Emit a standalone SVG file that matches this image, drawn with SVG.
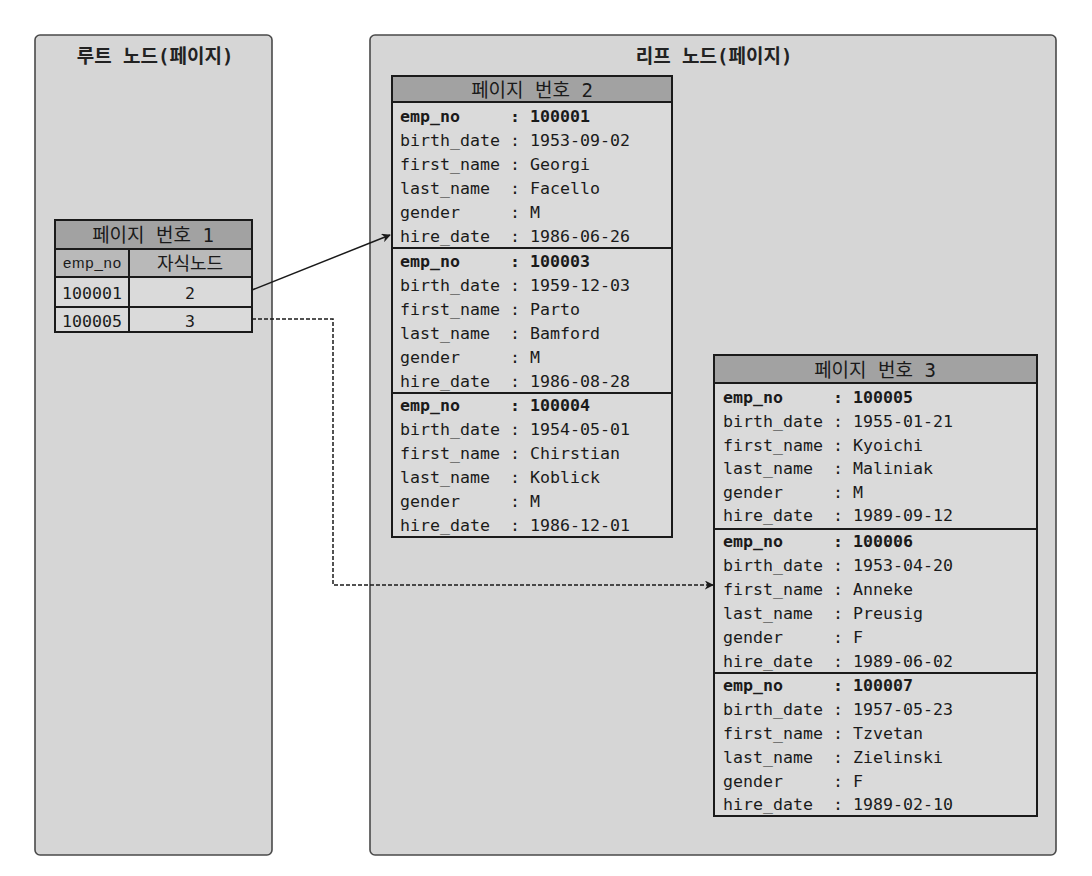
<svg xmlns="http://www.w3.org/2000/svg" width="1092" height="876" viewBox="0 0 1092 876">
<style>
.cont{fill:#d6d6d6;stroke:#4a4a4a;stroke-width:1.6}
.tbl{fill:#dadada;stroke:#1a1a1a;stroke-width:2}
.hdr{fill:#a2a2a2;stroke:#1a1a1a;stroke-width:2}
.sub{fill:#b9b9b9;stroke:#1a1a1a;stroke-width:2}
.sep{stroke:#1a1a1a;stroke-width:2}
.title{font-family:"DejaVu Sans Mono","Noto Sans CJK KR",monospace;font-size:19px;font-weight:bold;fill:#222;text-anchor:middle}
.ph{font-family:"DejaVu Sans Mono","Noto Sans CJK KR",monospace;font-size:19px;fill:#1a1a1a;text-anchor:middle}
.m{font-family:"DejaVu Sans Mono","Liberation Mono",monospace;font-size:16.6px;fill:#1a1a1a}
.b{font-weight:bold}
.conn{fill:none;stroke:#1a1a1a;stroke-width:1.5}
.dash{stroke-dasharray:4 2}
</style>
<defs>
<marker id="arr" viewBox="0 0 10 10" refX="9" refY="5" markerWidth="9" markerHeight="9" markerUnits="userSpaceOnUse" orient="auto">
<path d="M0,0 L10,5 L0,10 L3,5 Z" fill="#1a1a1a"/>
</marker>
</defs>

<g id="root-node">
<rect class="cont" x="35" y="35" width="237" height="820" rx="5"/>
<text class="title" x="155" y="63">루트 노드(페이지)</text>
</g>

<g id="leaf-node">
<rect class="cont" x="370" y="35" width="686" height="820" rx="5"/>
<text class="title" x="714" y="63">리프 노드(페이지)</text>
</g>

<g id="page1">
<rect class="tbl" x="55" y="220" width="197" height="112"/>
<rect class="hdr" x="55" y="220" width="197" height="29"/>
<rect class="sub" x="55" y="249" width="197" height="28"/>
<line class="sep" x1="55" y1="307" x2="252" y2="307"/>
<line class="sep" x1="129" y1="249" x2="129" y2="332"/>
<text class="ph" x="153" y="242">페이지 번호 1</text>
<text x="92" y="268" font-family="Liberation Sans, Arial, sans-serif" font-size="15" text-anchor="middle" fill="#1a1a1a" textLength="58">emp_no</text>
<text x="190" y="270" font-family="Noto Sans CJK KR, sans-serif" font-size="18" text-anchor="middle" fill="#1a1a1a">자식노드</text>
<text class="m" x="62" y="299">100001</text>
<text class="m" x="190" y="299" text-anchor="middle">2</text>
<text class="m" x="62" y="327">100005</text>
<text class="m" x="190" y="327" text-anchor="middle">3</text>
</g>

<g id="page2">
<rect class="tbl" x="392" y="76" width="280" height="461"/>
<rect class="hdr" x="392" y="76" width="280" height="26"/>
<line class="sep" x1="392" y1="248" x2="672" y2="248"/>
<line class="sep" x1="392" y1="393" x2="672" y2="393"/>
<text class="ph" x="532" y="97">페이지 번호 2</text>
<g class="m">
<text class="b" x="400" y="122">emp_no</text><text class="b" x="510" y="122">: 100001</text>
<text x="400" y="146">birth_date</text><text x="510" y="146">: 1953-09-02</text>
<text x="400" y="170">first_name</text><text x="510" y="170">: Georgi</text>
<text x="400" y="194">last_name</text><text x="510" y="194">: Facello</text>
<text x="400" y="218">gender</text><text x="510" y="218">: M</text>
<text x="400" y="242">hire_date</text><text x="510" y="242">: 1986-06-26</text>
<text class="b" x="400" y="267">emp_no</text><text class="b" x="510" y="267">: 100003</text>
<text x="400" y="291">birth_date</text><text x="510" y="291">: 1959-12-03</text>
<text x="400" y="315">first_name</text><text x="510" y="315">: Parto</text>
<text x="400" y="339">last_name</text><text x="510" y="339">: Bamford</text>
<text x="400" y="363">gender</text><text x="510" y="363">: M</text>
<text x="400" y="387">hire_date</text><text x="510" y="387">: 1986-08-28</text>
<text class="b" x="400" y="411">emp_no</text><text class="b" x="510" y="411">: 100004</text>
<text x="400" y="435">birth_date</text><text x="510" y="435">: 1954-05-01</text>
<text x="400" y="459">first_name</text><text x="510" y="459">: Chirstian</text>
<text x="400" y="483">last_name</text><text x="510" y="483">: Koblick</text>
<text x="400" y="507">gender</text><text x="510" y="507">: M</text>
<text x="400" y="531">hire_date</text><text x="510" y="531">: 1986-12-01</text>
</g>
</g>

<g id="page3">
<rect class="tbl" x="714" y="355" width="323" height="461"/>
<rect class="hdr" x="714" y="355" width="323" height="28"/>
<line class="sep" x1="714" y1="529" x2="1037" y2="529"/>
<line class="sep" x1="714" y1="673" x2="1037" y2="673"/>
<text class="ph" x="875" y="377">페이지 번호 3</text>
<g class="m">
<text class="b" x="723" y="403">emp_no</text><text class="b" x="833" y="403">: 100005</text>
<text x="723" y="427">birth_date</text><text x="833" y="427">: 1955-01-21</text>
<text x="723" y="451">first_name</text><text x="833" y="451">: Kyoichi</text>
<text x="723" y="474">last_name</text><text x="833" y="474">: Maliniak</text>
<text x="723" y="498">gender</text><text x="833" y="498">: M</text>
<text x="723" y="521">hire_date</text><text x="833" y="521">: 1989-09-12</text>
<text class="b" x="723" y="547">emp_no</text><text class="b" x="833" y="547">: 100006</text>
<text x="723" y="571">birth_date</text><text x="833" y="571">: 1953-04-20</text>
<text x="723" y="595">first_name</text><text x="833" y="595">: Anneke</text>
<text x="723" y="619">last_name</text><text x="833" y="619">: Preusig</text>
<text x="723" y="643">gender</text><text x="833" y="643">: F</text>
<text x="723" y="667">hire_date</text><text x="833" y="667">: 1989-06-02</text>
<text class="b" x="723" y="691">emp_no</text><text class="b" x="833" y="691">: 100007</text>
<text x="723" y="715">birth_date</text><text x="833" y="715">: 1957-05-23</text>
<text x="723" y="739">first_name</text><text x="833" y="739">: Tzvetan</text>
<text x="723" y="763">last_name</text><text x="833" y="763">: Zielinski</text>
<text x="723" y="787">gender</text><text x="833" y="787">: F</text>
<text x="723" y="810">hire_date</text><text x="833" y="810">: 1989-02-10</text>
</g>
</g>

<g id="connectors">
<line class="conn" x1="252" y1="290" x2="390" y2="235" marker-end="url(#arr)"/>
<polyline class="conn dash" points="252,319 333,319 333,585 713,585" marker-end="url(#arr)"/>
</g>
</svg>
